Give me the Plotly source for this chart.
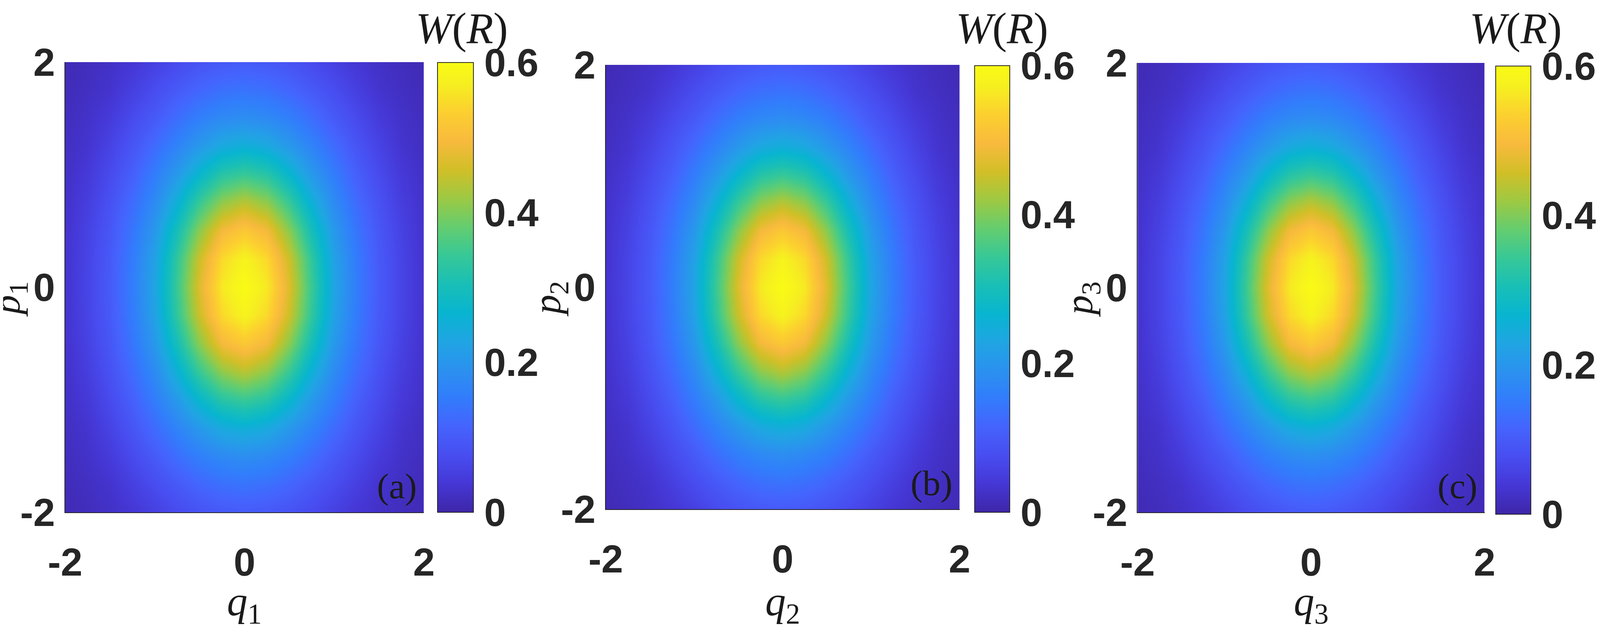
import plotly.graph_objects as go

q_vals = [-2, -1.75, -1.5, -1.25, -1, -0.75, -0.5, -0.25, 0, 0.25, 0.5, 0.75, 1, 1.25, 1.5, 1.75, 2]
p_vals = [-2, -1.75, -1.5, -1.25, -1, -0.75, -0.5, -0.25, 0, 0.25, 0.5, 0.75, 1, 1.25, 1.5, 1.75, 2]

# W(R), rows go from p=-2 up to p=2.
# the three panels (a), (b), (c) look the same within reading precision
w_read = [
    [.011, .017, .026, .037, .054, .072, .086, .096, .100, .096, .086, .072, .054, .037, .026, .017, .011],
    [.014, .022, .032, .053, .076, .098, .119, .134, .140, .134, .119, .098, .076, .053, .032, .022, .014],
    [.018, .028, .045, .072, .099, .131, .159, .178, .185, .178, .159, .131, .099, .072, .045, .028, .018],
    [.021, .033, .059, .090, .127, .167, .206, .240, .254, .240, .206, .167, .127, .090, .059, .033, .021],
    [.025, .042, .072, .108, .155, .207, .271, .325, .344, .325, .271, .207, .155, .108, .072, .042, .025],
    [.028, .050, .084, .127, .180, .255, .343, .411, .440, .411, .343, .255, .180, .127, .084, .050, .028],
    [.030, .057, .093, .142, .205, .301, .407, .492, .522, .492, .407, .301, .205, .142, .093, .057, .030],
    [.031, .061, .098, .152, .222, .335, .454, .545, .580, .545, .454, .335, .222, .152, .098, .061, .031],
    [.032, .062, .100, .155, .228, .345, .470, .565, .600, .565, .470, .345, .228, .155, .100, .062, .032],
    [.031, .061, .098, .152, .222, .335, .454, .545, .580, .545, .454, .335, .222, .152, .098, .061, .031],
    [.030, .057, .093, .142, .205, .301, .407, .492, .522, .492, .407, .301, .205, .142, .093, .057, .030],
    [.028, .050, .084, .127, .180, .255, .343, .411, .440, .411, .343, .255, .180, .127, .084, .050, .028],
    [.025, .042, .072, .108, .155, .207, .271, .325, .344, .325, .271, .207, .155, .108, .072, .042, .025],
    [.021, .033, .059, .090, .127, .167, .206, .240, .254, .240, .206, .167, .127, .090, .059, .033, .021],
    [.018, .028, .045, .072, .099, .131, .159, .178, .185, .178, .159, .131, .099, .072, .045, .028, .018],
    [.014, .022, .032, .053, .076, .098, .119, .134, .140, .134, .119, .098, .076, .053, .032, .022, .014],
    [.011, .017, .026, .037, .054, .072, .086, .096, .100, .096, .086, .072, .054, .037, .026, .017, .011],
]
w_a = w_read
w_b = w_read
w_c = w_read

axis_ticks = [-2, 0, 2]
axis_ticktext = ['-2', '0', '2']
cbar_ticks = [0, 0.2, 0.4, 0.6]
cbar_ticktext = ['0', '0.2', '0.4', '0.6']
panel_tags = ['(a)', '(b)', '(c)']
q_names = ['<i>q</i><sub>1</sub>', '<i>q</i><sub>2</sub>', '<i>q</i><sub>3</sub>']
p_names = ['<i>p</i><sub>1</sub>', '<i>p</i><sub>2</sub>', '<i>p</i><sub>3</sub>']

# matlab parula (old style) sampled
parula = [
    (0 / 63, 'rgb(62,38,168)'), (4 / 63, 'rgb(69,55,213)'), (8 / 63, 'rgb(72,77,240)'),
    (12 / 63, 'rgb(69,99,253)'), (16 / 63, 'rgb(50,124,252)'), (20 / 63, 'rgb(43,145,239)'),
    (24 / 63, 'rgb(32,165,227)'), (28 / 63, 'rgb(8,181,208)'), (32 / 63, 'rgb(25,191,182)'),
    (36 / 63, 'rgb(55,200,151)'), (40 / 63, 'rgb(100,205,111)'), (44 / 63, 'rgb(157,201,67)'),
    (48 / 63, 'rgb(209,191,39)'), (52 / 63, 'rgb(248,186,61)'), (56 / 63, 'rgb(252,207,48)'),
    (60 / 63, 'rgb(246,239,32)'), (63 / 63, 'rgb(249,251,21)'),
]

# the browser window ends up 4096 x 1625, so reference x positions are
# squeezed by KX to fill it; body margin is 8px, OFF moves things back
PAGE_W, PAGE_H = 4096, 1625
OFF = 8
FW, FH = PAGE_W - 2 * OFF, PAGE_H - 2 * OFF
KX = PAGE_W / 6200


def fx(X):
    return (X * KX - OFF) / FW


def fy(Y):
    return 1 - (Y - OFF) / FH


# plot boxes in reference pixels: left, right, top, bottom
boxes = [(255, 1660, 159, 1311), (2372, 3758, 166, 1303), (4455, 5814, 161, 1311)]
# colorbar boxes: left, right, top, bottom
cboxes = [(1713, 1853, 160, 1311), (3816, 3952, 168, 1311), (5858, 5994, 169, 1316)]
# small nudges of the colorbar titles
title_dx = [25, 40, 10]

tickfont = dict(family='Liberation Sans, Arial, sans-serif', size=100, color='#262626', weight='bold')
serif = 'Liberation Serif, Times New Roman, serif'
txtcol = '#1a1a1a'

fig = go.Figure()
for i, w in enumerate([w_a, w_b, w_c]):
    l, r, t, b = boxes[i]
    cl, cr, ct, cb = cboxes[i]
    n = '' if i == 0 else str(i + 1)
    fig.add_trace(go.Heatmap(
        x=q_vals, y=p_vals, z=w,
        xaxis='x' + n, yaxis='y' + n,
        zsmooth='best', zmin=0, zmax=0.6,
        colorscale=parula,
        colorbar=dict(
            x=fx(cl), xanchor='left', xref='paper',
            y=(fy(ct) + fy(cb)) / 2, yanchor='middle', yref='paper',
            len=fy(ct) - fy(cb), lenmode='fraction',
            thickness=(cr - cl) * KX, thicknessmode='pixels',
            xpad=0, ypad=0,
            outlinecolor='#262626', outlinewidth=2,
            tickvals=cbar_ticks, ticktext=cbar_ticktext,
            ticks='outside', ticklen=7, tickcolor='rgba(0,0,0,0)',
            tickfont=tickfont,
        ),
    ))
    fig.layout['xaxis' + n] = dict(
        domain=[fx(l), fx(r)], range=[-2, 2], anchor='y' + n,
        tickvals=axis_ticks, ticktext=axis_ticktext, tickfont=tickfont,
        showgrid=False, zeroline=False, ticks='', ticklabelstandoff=40,
        showline=True, linecolor='#262626', linewidth=2, automargin=False,
    )
    fig.layout['yaxis' + n] = dict(
        domain=[fy(b), fy(t)], range=[-2, 2], anchor='x' + n,
        tickvals=axis_ticks, ticktext=axis_ticktext, tickfont=tickfont,
        showgrid=False, zeroline=False, ticks='', ticklabelstandoff=4,
        showline=True, linecolor='#262626', linewidth=2, automargin=False,
    )
    # axis labels
    fig.add_annotation(text=q_names[i], xref='paper', yref='paper', x=fx((l + r) / 2), y=fy(1478),
                       xanchor='center', yanchor='top', showarrow=False,
                       font=dict(family=serif, size=105, color=txtcol))
    fig.add_annotation(text=p_names[i], xref='paper', yref='paper', x=fx(l), xshift=-143,
                       y=fy((t + b) / 2 + 30), xanchor='center', yanchor='middle', textangle=-90,
                       showarrow=False, font=dict(family=serif, size=100, color=txtcol))
    # panel tag, bottom right inside the plot
    fig.add_annotation(text=panel_tags[i], xref='paper', yref='paper', x=fx(r - 25), y=fy(b - 14),
                       xanchor='right', yanchor='bottom', showarrow=False,
                       font=dict(family=serif, size=92, color=txtcol))
    # colorbar title
    fig.add_annotation(text='<i>W</i>(<i>R</i>)', xref='paper', yref='paper',
                       x=fx((cl + cr) / 2 + title_dx[i]), y=1, xanchor='center', yanchor='top',
                       showarrow=False, font=dict(family=serif, size=112, color=txtcol))

fig.update_layout(
    width=FW, height=FH,
    margin=dict(l=0, r=0, t=0, b=0),
    paper_bgcolor='white', plot_bgcolor='white',
    showlegend=False,
)
fig.write_html("out.html")
